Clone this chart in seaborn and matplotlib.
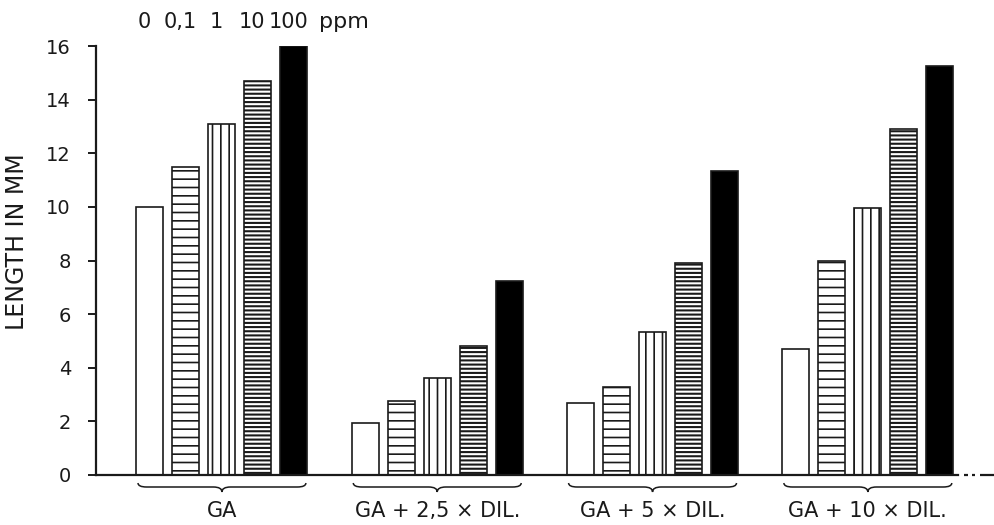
import numpy as np
import pandas as pd
import matplotlib
matplotlib.use("Agg")
import matplotlib.pyplot as plt
from matplotlib.path import Path
from matplotlib.patches import PathPatch
import matplotlib.transforms as mtransforms
import seaborn as sns

# Treatment groups and GA concentrations (ppm)
treatments = ["GA", "GA + 2,5 × DIL.", "GA + 5 × DIL.", "GA + 10 × DIL."]
concentrations = ["0", "0,1", "1", "10", "100"]

# Length in mm for each concentration, one list per treatment
len_ga = [10.0, 11.5, 13.1, 14.7, 16.0]
len_dil_2_5 = [1.95, 2.75, 3.6, 4.8, 7.25]
len_dil_5 = [2.7, 3.3, 5.35, 7.9, 11.35]
len_dil_10 = [4.7, 8.0, 9.95, 12.9, 15.25]

y_ticks = [0, 2, 4, 6, 8, 10, 12, 14, 16]

rows = []
for t, vals in zip(treatments, [len_ga, len_dil_2_5, len_dil_5, len_dil_10]):
    for c, v in zip(concentrations, vals):
        rows.append({"treatment": t, "conc": c, "length": v})
df = pd.DataFrame(rows)

sns.set_theme(style="white")
plt.rcParams["font.family"] = ["DejaVu Sans"]
plt.rcParams["hatch.linewidth"] = 1.2
ink = "#1a1a1a"

fig = plt.figure(figsize=(9.94, 5.25), dpi=100)
W, H = 994, 525
ax = fig.add_axes([96 / W, 1 - 475 / H, (W - 96) / W, (475 - 46) / H])

fills = ["white", "white", "white", "white", "black"]
sns.barplot(data=df, x="treatment", y="length", hue="conc",
            order=treatments, hue_order=concentrations,
            palette=fills, saturation=1, width=0.836, gap=0.25,
            edgecolor=ink, linewidth=1.2, legend=False, ax=ax, errorbar=None)

hatches = ["", "--", "||", "----", ""]
for cont, h in zip(ax.containers, hatches):
    for p in cont:
        p.set_hatch(h)
        if h == "----" and hasattr(p, "set_hatch_linewidth"):
            p.set_hatch_linewidth(1.5)

ax.set_xlim(-0.585, 3.586)
ax.set_ylim(0, 16)
ax.set_yticks(y_ticks)
ax.set_yticklabels([str(v) for v in y_ticks], fontsize=14, color=ink)
ax.tick_params(axis="y", direction="out", length=6, width=1.4, color=ink,
               pad=12, left=True)
ax.set_xticks(range(len(treatments)))
ax.set_xticklabels(treatments, fontsize=15, color=ink)
ax.tick_params(axis="x", length=0, pad=19)
ax.set_xlabel("")
ax.set_ylabel("LENGTH IN MM", fontsize=17, color=ink, va="center")
ax.yaxis.set_label_coords(-0.088, 0.543)

for s in ["top", "right"]:
    ax.spines[s].set_visible(False)
for s in ["left", "bottom"]:
    ax.spines[s].set_color(ink)
    ax.spines[s].set_linewidth(1.6)

px_per_x = (W - 96) / (3.586 + 0.585)


def px_to_x(px):
    return -0.585 + (px - 96) / px_per_x


ax.spines["bottom"].set_bounds(-0.585, px_to_x(958))
ax.plot([px_to_x(964), px_to_x(968)], [0, 0], color=ink, lw=1.6,
        clip_on=False, solid_capstyle="butt")
ax.plot([px_to_x(972), px_to_x(975)], [0, 0], color=ink, lw=1.6,
        clip_on=False, solid_capstyle="butt")
ax.plot([px_to_x(980), px_to_x(994)], [0, 0], color=ink, lw=1.6,
        clip_on=False, solid_capstyle="butt")

# Curly braces beneath each treatment group
ax_h_px = 475 - 46
trans = mtransforms.blended_transform_factory(ax.transData, ax.transAxes)
y_end = -8 / ax_h_px
y_line = -12 / ax_h_px
y_tip = -17 / ax_h_px
d = 0.04
for i in range(len(treatments)):
    x0, x1 = i - 0.39, i + 0.39
    verts = [(x0, y_end), (x0, y_line), (x0 + d, y_line),
             (i - d, y_line), (i, y_line), (i, y_tip),
             (i, y_line), (i + d, y_line),
             (x1 - d, y_line), (x1, y_line), (x1, y_end)]
    codes = [Path.MOVETO, Path.CURVE3, Path.CURVE3,
             Path.LINETO, Path.CURVE3, Path.CURVE3,
             Path.CURVE3, Path.CURVE3,
             Path.LINETO, Path.CURVE3, Path.CURVE3]
    ax.add_patch(PathPatch(Path(verts, codes), fill=False, edgecolor=ink,
                           lw=1.1, transform=trans, clip_on=False))

# Concentration legend above the GA bars
y_top = 1 + 24 / ax_h_px
centers = [cont[0].get_x() + cont[0].get_width() / 2 for cont in ax.containers]
for c, xc in zip(concentrations, centers):
    ax.annotate(c, xy=(xc, y_top), xycoords=trans, xytext=(-4, 0),
                textcoords="offset points", ha="center", va="center",
                fontsize=15, color=ink, annotation_clip=False)
ax.annotate("ppm", xy=(centers[-1], y_top), xycoords=trans, xytext=(18, 0),
            textcoords="offset points", ha="left", va="center",
            fontsize=16, color=ink, annotation_clip=False)

fig.savefig("out.png", dpi=100, facecolor="white")
